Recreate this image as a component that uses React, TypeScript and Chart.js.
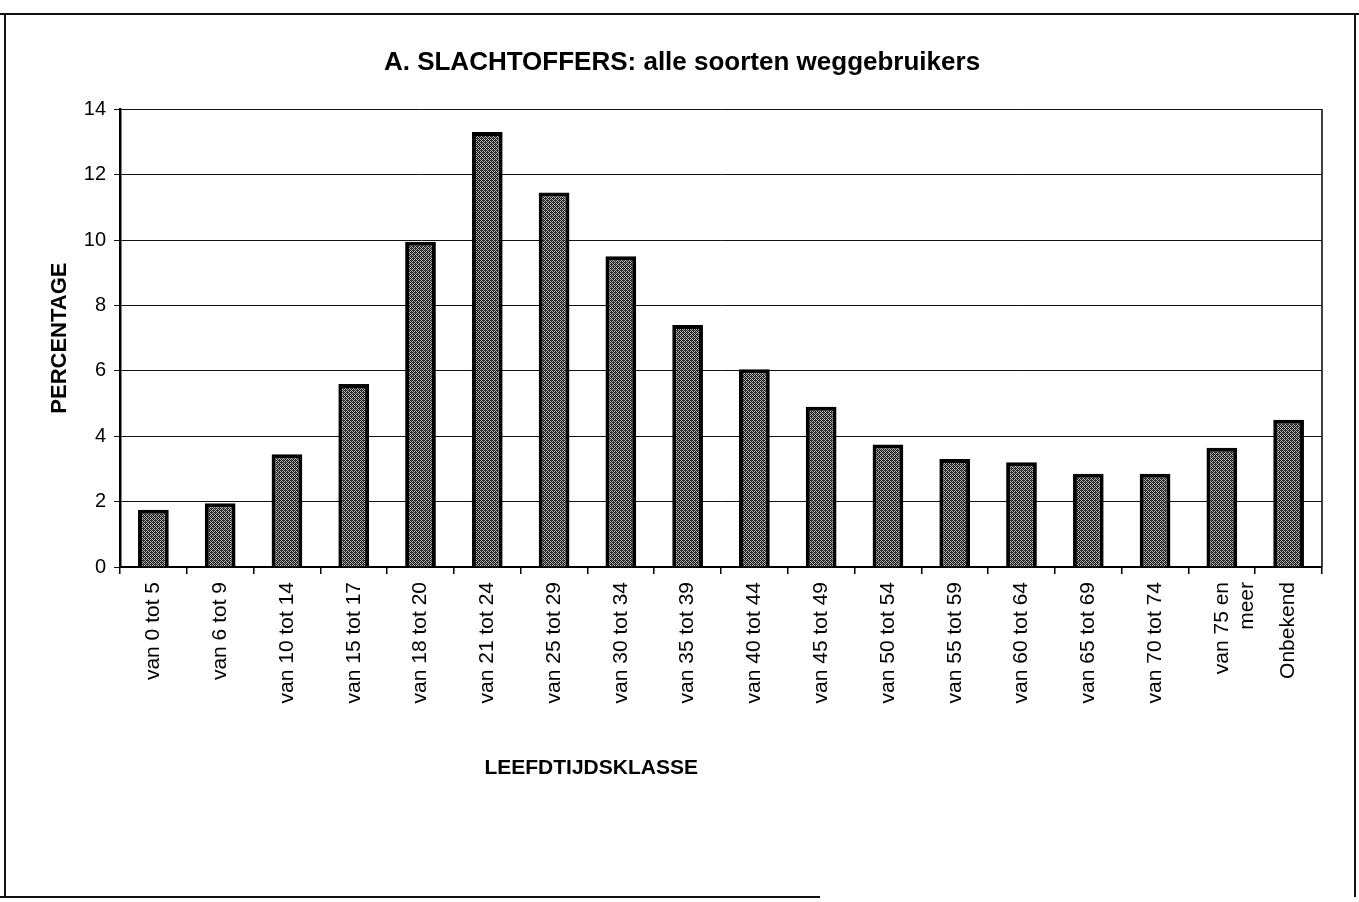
import React, { useEffect, useRef } from "react";
import { Chart, registerables } from "chart.js";

Chart.register(...registerables);

const categories: (string | string[])[] = [
  "van 0 tot 5",
  "van 6 tot 9",
  "van 10 tot 14",
  "van 15 tot 17",
  "van 18 tot 20",
  "van 21 tot 24",
  "van 25 tot 29",
  "van 30 tot 34",
  "van 35 tot 39",
  "van 40 tot 44",
  "van 45 tot 49",
  "van 50 tot 54",
  "van 55 tot 59",
  "van 60 tot 64",
  "van 65 tot 69",
  "van 70 tot 74",
  ["van 75 en", "meer"],
  "Onbekend",
];

const percentages: number[] = [
  1.75, 1.95, 3.45, 5.6, 9.95, 13.3, 11.45, 9.5, 7.4, 6.05, 4.9, 3.75, 3.3, 3.2,
  2.85, 2.85, 3.65, 4.5,
];

const yTicks = { min: 0, max: 14, step: 2 };

const titleText = "A. SLACHTOFFERS: alle soorten weggebruikers";
const yTitleText = "PERCENTAGE";
const xTitleText = "LEEFDTIJDSKLASSE";

const FONT = "'Liberation Sans', Arial, Helvetica, sans-serif";

function makePattern(): CanvasPattern | string {
  const c = document.createElement("canvas");
  c.width = 4;
  c.height = 4;
  const g = c.getContext("2d");
  if (!g) return "#777";
  g.fillStyle = "#b8b8b8";
  g.fillRect(0, 0, 4, 4);
  g.fillStyle = "#1a1a1a";
  for (let y = 0; y < 4; y++) {
    for (let x = 0; x < 4; x++) {
      if ((x + y) % 2 === 0) g.fillRect(x, y, 1, 1);
    }
  }
  g.fillStyle = "#444";
  g.fillRect(1, 2, 1, 1);
  g.fillRect(3, 0, 1, 1);
  const p = g.createPattern(c, "repeat");
  return p || "#777";
}

const decorPlugin = {
  id: "decor",
  beforeDraw(chart: any) {
    const ctx = chart.ctx;
    ctx.save();
    ctx.strokeStyle = "#111";
    ctx.lineWidth = 2;
    ctx.beginPath();
    ctx.moveTo(5, 14);
    ctx.lineTo(5, 897);
    ctx.moveTo(0, 14);
    ctx.lineTo(1359, 14);
    ctx.moveTo(1355, 14);
    ctx.lineTo(1355, 897);
    ctx.moveTo(0, 897);
    ctx.lineTo(820, 897);
    ctx.stroke();
    ctx.restore();
  },
  afterDraw(chart: any) {
    const { ctx, chartArea } = chart;
    ctx.save();
    ctx.strokeStyle = "#000";
    ctx.lineWidth = 1.5;
    ctx.beginPath();
    ctx.moveTo(chartArea.right, chartArea.top);
    ctx.lineTo(chartArea.right, chartArea.bottom);
    ctx.stroke();
    ctx.fillStyle = "#000";
    ctx.font = `bold 21px ${FONT}`;
    ctx.textAlign = "center";
    ctx.textBaseline = "middle";
    ctx.fillText(
      xTitleText,
      chartArea.left + chartArea.width * 0.392,
      chartArea.bottom + 201
    );
    ctx.restore();
  },
};

export default function App() {
  const ref = useRef<HTMLCanvasElement | null>(null);

  useEffect(() => {
    if (!ref.current) return;
    const pattern = makePattern();
    const chart = new Chart(ref.current, {
      type: "bar",
      data: {
        labels: categories,
        datasets: [
          {
            data: percentages,
            backgroundColor: pattern as any,
            borderColor: "#000",
            borderWidth: 4,
            barPercentage: 0.46,
            categoryPercentage: 1,
          },
        ],
      },
      options: {
        animation: false,
        responsive: false,
        layout: { padding: { left: 42, right: 37, top: 0, bottom: 0 } },
        plugins: {
          legend: { display: false },
          tooltip: { enabled: false },
          title: {
            display: true,
            text: titleText,
            color: "#000",
            font: { family: FONT, size: 26, weight: "bold" },
            padding: { top: 47.5, bottom: 30.5 },
          },
        },
        scales: {
          x: {
            grid: {
              drawOnChartArea: false,
              drawTicks: true,
              tickLength: 7,
              color: "#000",
              lineWidth: 1.5,
            },
            border: { display: true, color: "#000", width: 2 },
            ticks: {
              autoSkip: false,
              minRotation: 90,
              maxRotation: 90,
              padding: 8,
              color: "#000",
              font: { family: FONT, size: 21 },
            },
            afterFit: (scale: any) => {
              scale.height = 335;
            },
          },
          y: {
            min: yTicks.min,
            max: yTicks.max,
            ticks: {
              stepSize: yTicks.step,
              padding: 8,
              color: "#000",
              font: { family: FONT, size: 20 },
            },
            grid: {
              color: "#111",
              lineWidth: 1,
              tickLength: 6,
              drawTicks: true,
            },
            border: { display: true, color: "#000", width: 2.5 },
            title: {
              display: true,
              text: yTitleText,
              color: "#000",
              font: { family: FONT, size: 22, weight: "bold" },
              padding: { top: 5, bottom: 0 },
            },
            afterFit: (scale: any) => {
              scale.width = 78;
            },
          },
        },
      },
      plugins: [decorPlugin],
    });
    return () => chart.destroy();
  }, []);

  return (
    <div style={{ position: "absolute", left: 0, top: 0, width: 1359, height: 902, background: "#fff" }}>
      <canvas ref={ref} width={1359} height={902} style={{ display: "block" }} />
    </div>
  );
}
